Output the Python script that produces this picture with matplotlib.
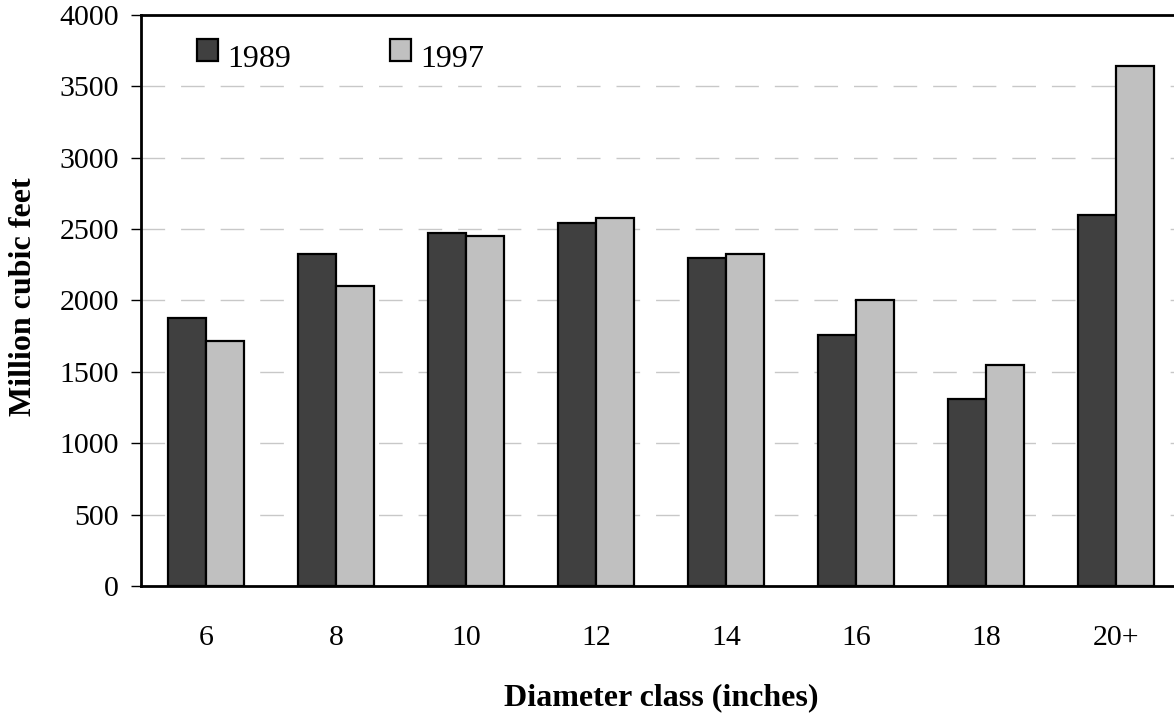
import matplotlib
matplotlib.use("Agg")
import matplotlib.pyplot as plt
import numpy as np

categories = ["6", "8", "10", "12", "14", "16", "18", "20+"]
series_names = ["1989", "1997"]
vol_1989 = [1875, 2326, 2471, 2541, 2296, 1756, 1310, 2599]
vol_1997 = [1714, 2099, 2450, 2576, 2324, 2006, 1546, 3643]
y_ticks = [0, 500, 1000, 1500, 2000, 2500, 3000, 3500, 4000]

plt.rcParams["font.family"] = ["Liberation Serif", "DejaVu Serif"]

W, H = 1174, 715
fig = plt.figure(figsize=(W / 100, H / 100), dpi=100)
ax = fig.add_axes([141 / W, (H - 586) / H, 1040 / W, 571 / H])

x = np.arange(len(categories))
bw = 0.29
colors = ["#404040", "#c0c0c0"]
ax.bar(x - bw / 2, vol_1989, bw, color=colors[0], edgecolor="black",
       linewidth=1.6, zorder=3, label=series_names[0])
ax.bar(x + bw / 2, vol_1997, bw, color=colors[1], edgecolor="black",
       linewidth=1.6, zorder=3, label=series_names[1])

ax.set_xlim(-0.5, len(categories) - 0.5)
ax.set_ylim(0, 4000)
ax.set_yticks(y_ticks)
ax.set_xticks(x)
ax.set_xticklabels(categories)
ax.tick_params(axis="y", labelsize=21.5, length=7, width=1, pad=9)
ax.tick_params(axis="x", labelsize=21.5, length=0, pad=28)

for yv in y_ticks[1:-1]:
    ax.axhline(yv, color="#c8c8c8", linewidth=1.0, dashes=(17, 11.5), zorder=1)

for s in ["left", "bottom", "top"]:
    ax.spines[s].set_linewidth(2)
    ax.spines[s].set_color("black")
ax.spines["right"].set_visible(False)

ax.set_ylabel("Million cubic feet", fontsize=23, fontweight="bold")
ax.yaxis.set_label_coords(-0.1125, 0.506)
ax.yaxis.label.set_verticalalignment("center")
ax.set_xlabel("Diameter class (inches)", fontsize=23, fontweight="bold")
ax.xaxis.set_label_coords(0.5, -0.196)
ax.xaxis.label.set_verticalalignment("center")

leg = ax.legend(loc="upper left", bbox_to_anchor=(197 / W, 1 - 39 / H),
                bbox_transform=fig.transFigure, ncol=2, frameon=False,
                fontsize=23, handlelength=0.66, handleheight=0.66,
                handletextpad=0.28, columnspacing=3.1, borderpad=0,
                borderaxespad=0)
for t in leg.get_texts():
    t.set_y(-6)

fig.savefig("out.png", dpi=100)
